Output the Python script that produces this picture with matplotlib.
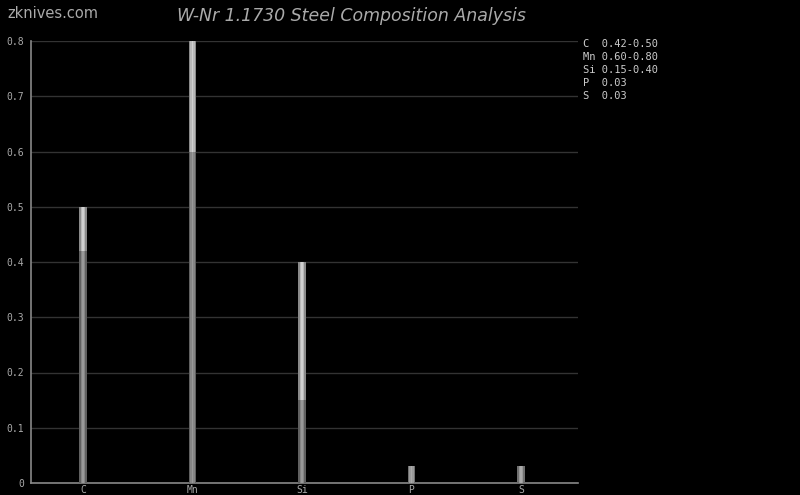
import matplotlib
matplotlib.use("Agg")
import matplotlib.pyplot as plt

elements = ["C", "Mn", "Si", "P", "S"]
min_vals = [0.42, 0.60, 0.15, 0.0, 0.0]
max_vals = [0.50, 0.80, 0.40, 0.03, 0.03]
legend_lines = ["C  0.42-0.50", "Mn 0.60-0.80", "Si 0.15-0.40", "P  0.03", "S  0.03"]
yticks = [0, 0.1, 0.2, 0.3, 0.4, 0.5, 0.6, 0.7, 0.8]
ytick_labels = ["0", "0.1", "0.2", "0.3", "0.4", "0.5", "0.6", "0.7", "0.8"]

fig = plt.figure(figsize=(8.0, 4.95), dpi=100, facecolor="black")
ax = fig.add_axes([31/800, 1 - 483/495, (578-31)/800, (483-41)/495], facecolor="black")

x = list(range(len(elements)))
w = 0.068
low = [m if m > 0 else 0 for m in min_vals]
up = [mx - m for mx, m in zip(max_vals, min_vals)]
# lower (min) segment
ax.bar(x, low, width=w, color="#606060", zorder=3)
ax.bar(x, low, width=w*0.55, color="#858585", zorder=4)
ax.bar(x, low, width=w*0.2, color="#999999", zorder=5)
# upper (range) segment
single = [m == 0 for m in min_vals]
up_edge = ["#707070" if s else "#8a8a8a" for s in single]
up_mid = ["#9a9a9a" if s else "#b8b8b8" for s in single]
up_ctr = ["#aaaaaa" if s else "#d0d0d0" for s in single]
ax.bar(x, up, bottom=low, width=w, color=up_edge, zorder=3)
ax.bar(x, up, bottom=low, width=w*0.55, color=up_mid, zorder=4)
ax.bar(x, up, bottom=low, width=w*0.2, color=up_ctr, zorder=5)

ax.set_xlim(-0.475, 4.52)
ax.set_ylim(0, 0.8)
ax.set_yticks(yticks)
ax.set_yticklabels(ytick_labels)
ax.set_xticks(x)
ax.set_xticklabels(elements)
ax.grid(axis="y", color="#333333", linewidth=1, zorder=0)
ax.set_axisbelow(True)
for s in ["top", "right"]:
    ax.spines[s].set_visible(False)
for s in ["left", "bottom"]:
    ax.spines[s].set_color("#888888")
    ax.spines[s].set_linewidth(1.2)
ax.tick_params(axis="both", length=0, colors="#aaaaaa", labelsize=7)
ax.tick_params(axis="x", pad=1.5)
ax.tick_params(axis="y", pad=5)
for lab in ax.get_xticklabels() + ax.get_yticklabels():
    lab.set_family("DejaVu Sans Mono")

for i, line in enumerate(legend_lines):
    fig.text(583/800, 1 - (44 + 13*i)/495, line, color="#cccccc", fontsize=7.5,
             family="DejaVu Sans Mono", va="center", ha="left")

fig.text(351/800, 1 - 16/495, "W-Nr 1.1730 Steel Composition Analysis", color="#aaaaaa",
         fontsize=12.5, style="italic", ha="center", va="center", family="DejaVu Sans")
fig.text(7/800, 1 - 13/495, "zknives.com", color="#aaaaaa", fontsize=10.5,
         ha="left", va="center", family="Liberation Sans Narrow")

fig.savefig("out.png", dpi=100, facecolor="black")
